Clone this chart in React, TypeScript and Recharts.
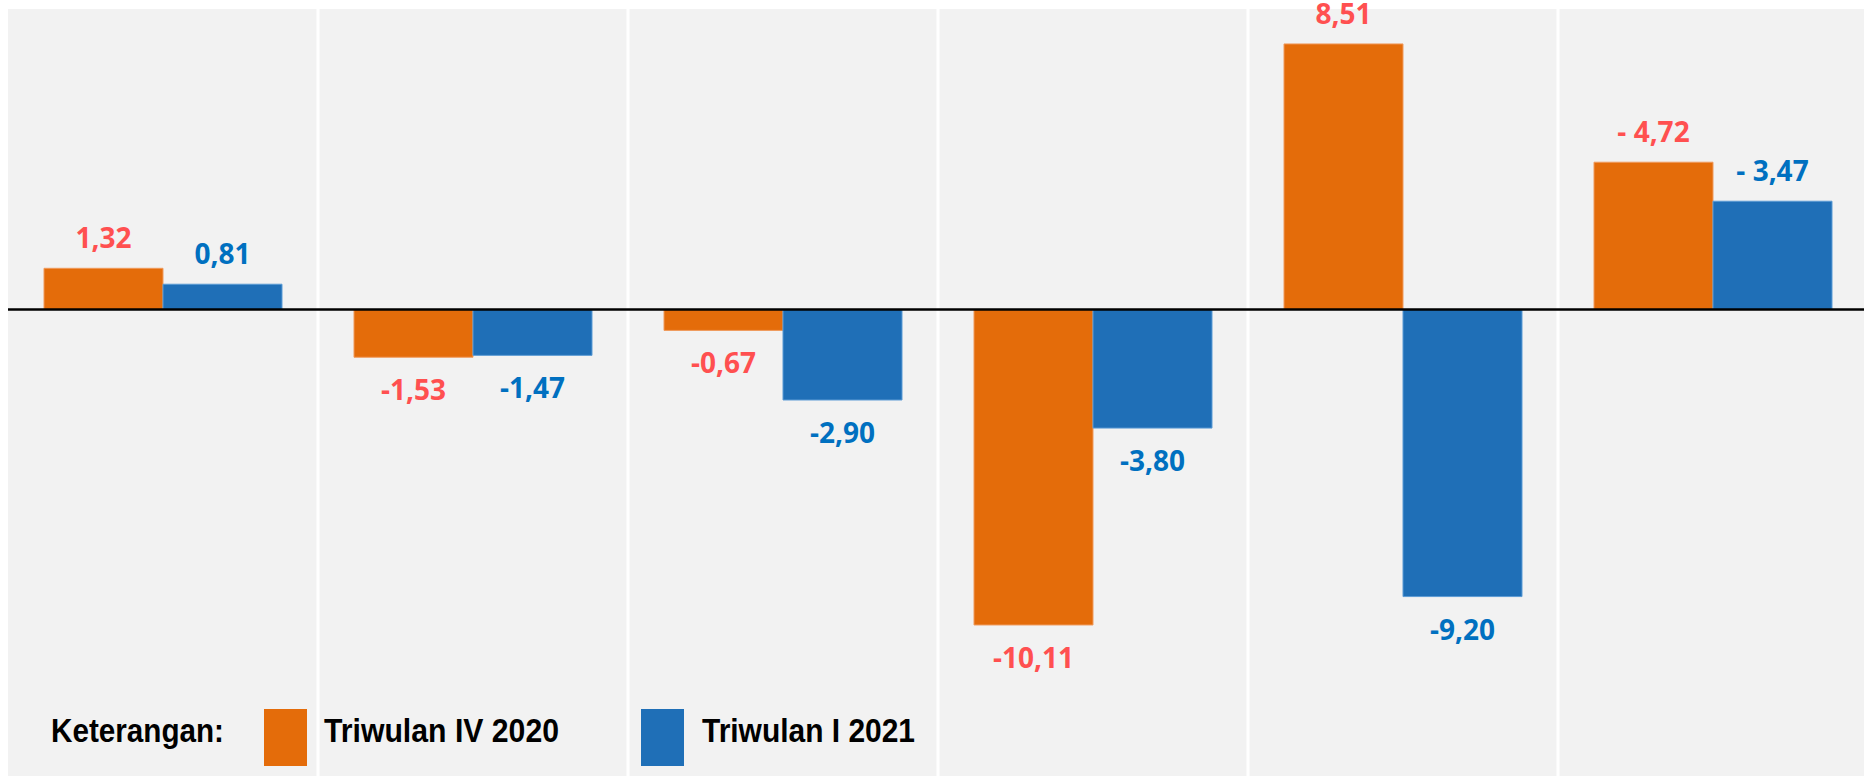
import { Bar, BarChart, CartesianGrid, LabelList, ReferenceLine, XAxis, YAxis } from "recharts";

const CATEGORIES = ["1", "2", "3", "4", "5", "6"];
const TRIWULAN_IV_2020 = [1.32, -1.53, -0.67, -10.11, 8.51, 4.72];
const TRIWULAN_I_2021 = [0.81, -1.47, -2.9, -3.8, -9.2, 3.47];
const LABELS_IV_2020 = ["1,32", "-1,53", "-0,67", "-10,11", "8,51", "- 4,72"];
const LABELS_I_2021 = ["0,81", "-1,47", "-2,90", "-3,80", "-9,20", "- 3,47"];

const SERIES = [
  { key: "iv2020", name: "Triwulan IV 2020", fill: "#E46C0A", stroke: "#F09A5C", labelColor: "#FF5050", values: TRIWULAN_IV_2020, labels: LABELS_IV_2020 },
  { key: "i2021", name: "Triwulan I 2021", fill: "#1F6FB7", stroke: "#5B9BD5", labelColor: "#0070C0", values: TRIWULAN_I_2021, labels: LABELS_I_2021 },
];

const data = CATEGORIES.map((name, i) => ({
  name,
  i,
  iv2020: TRIWULAN_IV_2020[i],
  i2021: TRIWULAN_I_2021[i],
}));

const W = 1864;
const H = 778;
const LABEL_FONT = "'Open Sans', 'Noto Sans', sans-serif";
const LEGEND_FONT = "'Liberation Sans', Arial, sans-serif";

const makeLabel = (values: number[], labels: string[], color: string) => (props: any) => {
  const vb = props.viewBox ?? props;
  const x = Number(vb.x);
  const y = Number(vb.y);
  const w = Number(vb.width);
  const h = Number(vb.height);
  const i = Number(props.value);
  const top = Math.min(y, y + h);
  const bottom = Math.max(y, y + h);
  const ty = values[i] >= 0 ? top - 20 : bottom + 43;
  return (
    <text
      x={x + w / 2}
      y={ty}
      fill={color}
      textAnchor="middle"
      fontFamily={LABEL_FONT}
      fontWeight={700}
      fontSize={28}
    >
      {labels[i]}
    </text>
  );
};

const gridLines = ({ offset }: any) => {
  const n = CATEGORIES.length;
  const out: number[] = [];
  for (let k = 1; k < n; k++) out.push(offset.left + (offset.width * k) / n);
  return out;
};

function LegendOverlay() {
  return (
    <svg width={W} height={H} style={{ position: "absolute", left: 0, top: 0, pointerEvents: "none" }}>
      <text x={51} y={742} fontFamily={LEGEND_FONT} fontWeight={700} fontSize={33} fill="#000" textLength={173} lengthAdjust="spacingAndGlyphs">
        Keterangan:
      </text>
      <rect x={264} y={709} width={43} height={57} fill={SERIES[0].fill} />
      <text x={324} y={742} fontFamily={LEGEND_FONT} fontWeight={700} fontSize={33} fill="#000" textLength={235} lengthAdjust="spacingAndGlyphs">
        {SERIES[0].name}
      </text>
      <rect x={641} y={709} width={43} height={57} fill={SERIES[1].fill} />
      <text x={702} y={742} fontFamily={LEGEND_FONT} fontWeight={700} fontSize={33} fill="#000" textLength={213} lengthAdjust="spacingAndGlyphs">
        {SERIES[1].name}
      </text>
    </svg>
  );
}

export default function App() {
  return (
    <div style={{ position: "absolute", left: 0, top: 0, width: W, height: H, background: "#ffffff", overflow: "hidden" }}>
      <BarChart
        width={W}
        height={H}
        data={data}
        margin={{ top: 9, right: -4, bottom: 2, left: 8 }}
        barCategoryGap={36}
        barGap={0}
      >
        <CartesianGrid
          horizontal={false}
          fill="#F2F2F2"
          fillOpacity={1}
          stroke="#FFFFFF"
          strokeWidth={3}
          verticalCoordinatesGenerator={gridLines}
        />
        <XAxis dataKey="name" hide />
        <YAxis hide domain={[-14.95, 9.63]} allowDataOverflow />
        {SERIES.map((s) => (
          <Bar key={s.key} dataKey={s.key} name={s.name} fill={s.fill} stroke={s.stroke} strokeWidth={1} isAnimationActive={false}>
            <LabelList dataKey="i" content={makeLabel(s.values, s.labels, s.labelColor)} />
          </Bar>
        ))}
        <ReferenceLine y={0} stroke="#000000" strokeWidth={2.5} />
      </BarChart>
      <LegendOverlay />
    </div>
  );
}
